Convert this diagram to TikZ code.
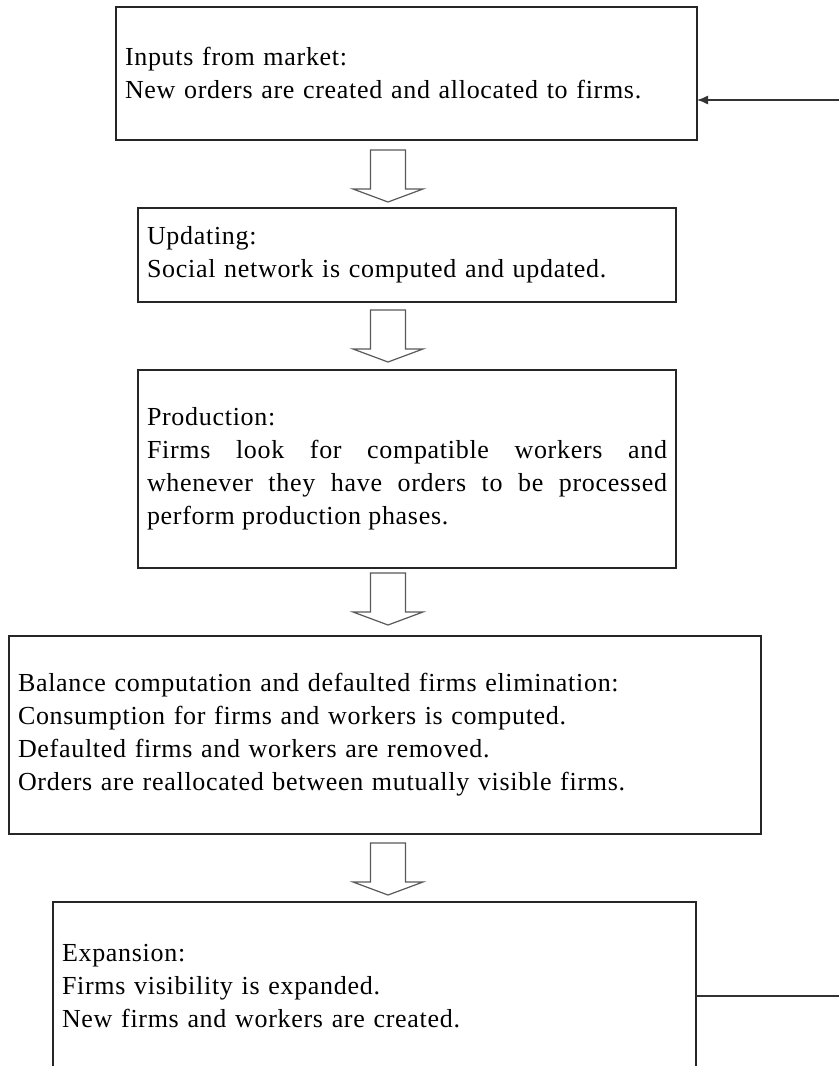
\documentclass[tikz,border=0pt]{standalone}
\usepackage{fontspec}
\setmainfont{Liberation Serif}[LetterSpace=2.7]
\usetikzlibrary{arrows.meta, positioning}
\tolerance=10000

\begin{document}
\begin{tikzpicture}[x=1pt, y=-1pt,
        stage/.style={rectangle, draw=black!85, line width=1.5pt, outer sep=0pt, inner xsep=9pt, inner ysep=0pt, align=left, anchor=north west, font=\fontsize{26}{33}\selectfont},
        blockarrow/.pic={\draw[line width=1.2pt, draw=black!65, fill=white] (-17.5,0) -- (-17.5,39) -- (-35,39) -- (0,52) -- (35,39) -- (17.5,39) -- (17.5,0) -- cycle;}]
        \useasboundingbox (0,0) rectangle (839,1066);

        % Stages
        \node[stage, text width=563pt, minimum height=133pt] (inputs) at (116,7) {Inputs from market:\\New orders are created and allocated to firms.};
        \node[stage, text width=520pt, minimum height=94pt] (updating) at (138,208) {Updating:\\Social network is computed and updated.};
        \node[stage, text width=520pt, minimum height=198pt, align=justify] (production) at (138,370) {Production:\linebreak Firms look for compatible workers and\linebreak whenever they have orders to be processed\linebreak perform production phases.};
        \node[stage, text width=734pt, minimum height=198pt] (balance) at (9,636) {Balance computation and defaulted firms elimination:\\Consumption for firms and workers is computed.\\Defaulted firms and workers are removed.\\Orders are reallocated between mutually visible firms.};
        \node[stage, text width=625pt, minimum height=168pt] (expansion) at (53,902) {Expansion:\\Firms visibility is expanded.\\New firms and workers are created.};

        % Block arrows between stages
        \coordinate (axis) at (388,0);
        \foreach \from/\gap in {inputs/10, updating/8, production/5, balance/9} {
            \path (\from.south -| axis) ++(0,\gap) pic {blockarrow};
        }

        % Loop back to the market
        \coordinate (loopin) at (839,100);
        \coordinate (loopout) at (839,996);
        \draw[-{Latex[length=11pt, width=9pt]}, line width=1.3pt, black!80] (loopin) -- (loopin -| inputs.east);
        \draw[line width=1.3pt, black!80] (loopout -| expansion.east) -- (loopout);
    \end{tikzpicture}
\end{document}
